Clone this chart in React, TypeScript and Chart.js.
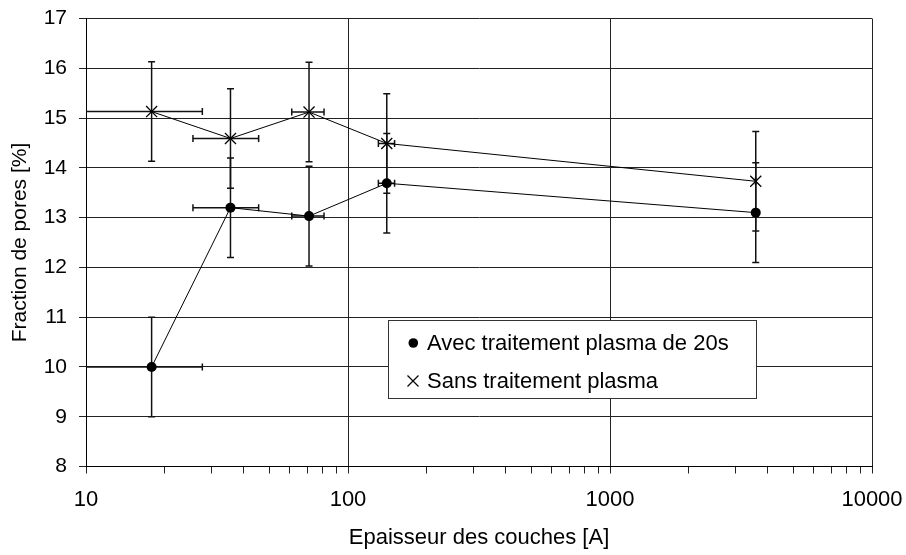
import React, { useEffect, useRef } from "react";
import { Chart, registerables } from "chart.js";

Chart.register(...registerables);

// ---- data ----
const thickness = [17.8, 35.6, 71, 140.6, 3600];
const avecPlasma = [10.0, 13.2, 13.03, 13.69, 13.1];
const sansPlasma = [15.13, 14.59, 15.12, 14.49, 13.73];
const yError = [1, 1, 1, 1, 1];
const xError = [10, 10, 10, 10, 10];
const seriesLabels = ["Avec traitement plasma de 20s", "Sans traitement plasma"];
const xTitle = "Epaisseur des couches [A]";
const yTitle = "Fraction de pores [%]";
const xDecades = [10, 100, 1000];
const xMax = 10000;
const yMin = 8;
const yMax = 17;

const FONT = "'Liberation Sans', Arial, sans-serif";

const xTickValues: number[] = [];
xDecades.forEach((d) => {
  for (let m = 1; m <= 9; m++) xTickValues.push(m * d);
});
xTickValues.push(xMax);

const isPow10 = (v: number) => {
  const l = Math.log10(v);
  return Math.abs(l - Math.round(l)) < 1e-9;
};

const errorBarPlugin = {
  id: "errorBars",
  beforeDatasetsDraw(chart: any) {
    const { ctx, chartArea, scales } = chart;
    const x = scales.x;
    const y = scales.y;
    ctx.save();
    ctx.beginPath();
    ctx.rect(chartArea.left, chartArea.top, chartArea.right - chartArea.left, chartArea.bottom - chartArea.top);
    ctx.clip();
    ctx.strokeStyle = "#111";
    ctx.lineWidth = 1.5;
    const cap = 3.5;
    chart.data.datasets.forEach((ds: any) => {
      ds.data.forEach((p: any, i: number) => {
        const px = x.getPixelForValue(p.x);
        const py = y.getPixelForValue(p.y);
        const ey = ds.errY[i];
        const ex = ds.errX[i];
        const yt = y.getPixelForValue(p.y + ey);
        const yb = y.getPixelForValue(p.y - ey);
        const xl = x.getPixelForValue(Math.max(p.x - ex, 1e-6));
        const xr = x.getPixelForValue(p.x + ex);
        ctx.beginPath();
        ctx.moveTo(px, yt);
        ctx.lineTo(px, yb);
        ctx.moveTo(px - cap, yt);
        ctx.lineTo(px + cap, yt);
        ctx.moveTo(px - cap, yb);
        ctx.lineTo(px + cap, yb);
        ctx.moveTo(xl, py);
        ctx.lineTo(xr, py);
        ctx.moveTo(xl, py - cap);
        ctx.lineTo(xl, py + cap);
        ctx.moveTo(xr, py - cap);
        ctx.lineTo(xr, py + cap);
        ctx.stroke();
      });
    });
    ctx.restore();
  },
};

const legendPlugin = {
  id: "boxLegend",
  afterDatasetsDraw(chart: any) {
    const { ctx } = chart;
    ctx.save();
    const bx = 388.5, by = 320.5, bw = 368, bh = 78;
    ctx.fillStyle = "#fff";
    ctx.fillRect(bx, by, bw, bh);
    ctx.strokeStyle = "#333";
    ctx.lineWidth = 1;
    ctx.strokeRect(bx, by, bw, bh);
    ctx.fillStyle = "#000";
    ctx.font = `22px ${FONT}`;
    ctx.textBaseline = "alphabetic";
    ctx.textAlign = "left";
    // row 1
    ctx.beginPath();
    ctx.arc(413.3, 343, 4.8, 0, Math.PI * 2);
    ctx.fill();
    ctx.fillText(seriesLabels[0], 427, 349.5);
    // row 2
    ctx.strokeStyle = "#000";
    ctx.lineWidth = 1.2;
    const cx = 413, cy = 381, h = 5.5;
    ctx.beginPath();
    ctx.moveTo(cx - h, cy - h);
    ctx.lineTo(cx + h, cy + h);
    ctx.moveTo(cx - h, cy + h);
    ctx.lineTo(cx + h, cy - h);
    ctx.stroke();
    ctx.fillText(seriesLabels[1], 427, 388);
    ctx.restore();
  },
};

const clearScalePadding = (scale: any) => {
  scale.paddingTop = 0;
  scale.paddingBottom = 0;
  scale.paddingLeft = 0;
  scale.paddingRight = 0;
};

export default function App() {
  const canvasRef = useRef<HTMLCanvasElement | null>(null);

  useEffect(() => {
    document.body.style.margin = "0";
    const canvas = canvasRef.current;
    if (!canvas) return;
    const chart = new Chart(canvas, {
      type: "line",
      data: {
        datasets: [
          {
            label: seriesLabels[0],
            data: thickness.map((t, i) => ({ x: t, y: avecPlasma[i] })),
            errY: yError,
            errX: xError,
            borderColor: "#000",
            borderWidth: 1,
            backgroundColor: "#000",
            pointStyle: "circle",
            pointRadius: 5,
            pointBackgroundColor: "#000",
            pointBorderColor: "#000",
            pointBorderWidth: 0,
            tension: 0,
            fill: false,
          } as any,
          {
            label: seriesLabels[1],
            data: thickness.map((t, i) => ({ x: t, y: sansPlasma[i] })),
            errY: yError,
            errX: xError,
            borderColor: "#000",
            borderWidth: 1,
            backgroundColor: "#000",
            pointStyle: "crossRot",
            pointRadius: 7.8,
            pointBorderColor: "#000",
            pointBorderWidth: 1.3,
            tension: 0,
            fill: false,
          } as any,
        ],
      },
      options: {
        animation: false,
        responsive: false,
        parsing: false as any,
        layout: { padding: { top: 18.5, right: 34, left: 0, bottom: 0 } },
        plugins: {
          legend: { display: false },
          tooltip: { enabled: false },
        },
        scales: {
          x: {
            type: "logarithmic",
            min: xDecades[0],
            max: xMax,
            afterBuildTicks: (scale: any) => {
              scale.ticks = xTickValues.map((v) => ({ value: v, major: isPow10(v) }));
            },
            afterFit: (scale: any) => {
              scale.height = 88.5;
              clearScalePadding(scale);
            },
            ticks: {
              autoSkip: false,
              maxRotation: 0,
              minRotation: 0,
              padding: 13,
              color: "#000",
              font: { family: FONT, size: 22 },
              callback: (value: any) => (isPow10(Number(value)) ? String(Number(value)) : ""),
            },
            grid: {
              color: (ctx: any) => (ctx.tick && isPow10(ctx.tick.value) ? "#222" : "rgba(0,0,0,0)"),
              tickColor: "#222",
              tickLength: 7,
              lineWidth: 1,
            },
            border: { color: "#000", width: 1 },
            title: {
              display: true,
              text: xTitle,
              color: "#000",
              font: { family: FONT, size: 22, lineHeight: 1 },
              padding: { top: 0, bottom: 6.5 },
            },
          } as any,
          y: {
            type: "linear",
            min: yMin,
            max: yMax,
            afterFit: (scale: any) => {
              scale.width = 86;
              clearScalePadding(scale);
            },
            ticks: {
              stepSize: 1,
              padding: 12,
              color: "#000",
              font: { family: FONT, size: 21 },
            },
            grid: {
              color: "#222",
              tickColor: "#222",
              tickLength: 7,
              lineWidth: 1,
            },
            border: { color: "#000", width: 1 },
            title: {
              display: true,
              text: yTitle,
              color: "#000",
              font: { family: FONT, size: 21, lineHeight: 1 },
              padding: { top: 9.5, bottom: 0 },
            },
          } as any,
        },
      },
      plugins: [errorBarPlugin, legendPlugin],
    });
    return () => chart.destroy();
  }, []);

  return (
    <div style={{ width: 906, height: 555, position: "relative" }}>
      <canvas ref={canvasRef} width={906} height={555} />
    </div>
  );
}
